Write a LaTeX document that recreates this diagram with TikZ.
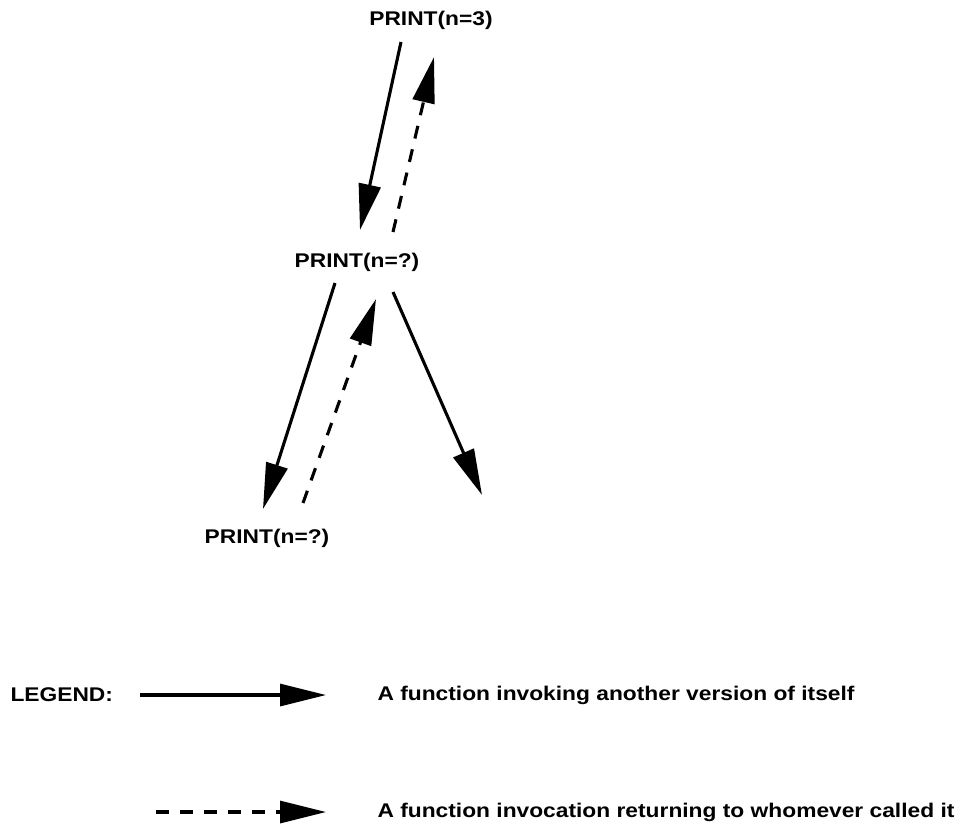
\documentclass[tikz,border=0pt]{standalone}
\usepackage{fontspec}
\setmainfont{Liberation Sans}[FakeStretch=1.15]
\usetikzlibrary{arrows.meta}
\tikzset{lbl/.style = {font=\bfseries\fontsize{19.8}{24}\selectfont, inner sep=0pt}}

\begin{document}
\begin{tikzpicture}[x=1pt, y=-1pt, line width=3.1pt,
  call/.style = {-{Triangle[length=46pt, width=22pt]}},
  ret/.style = {call, dash pattern=on 13pt off 11pt}]
\useasboundingbox (0,0) rectangle (959,825);
\node[lbl] (3) at (431,20) {PRINT(n=3)};
\node[lbl] (2) at (357,262) {PRINT(n=?)};
\node[lbl] (1) at (267,538) {PRINT(n=?)};
\coordinate (a3) at (401,42);
\coordinate (a2) at (360,230);
\coordinate (b2) at (393,232);
\coordinate (b3) at (434,57);
\coordinate (c2) at (335,283);
\coordinate (c1) at (263,509);
\coordinate (d1) at (303,503);
\coordinate (d2) at (376,299);
\coordinate (e2) at (393,292);
\coordinate (e0) at (482,495);
\draw[call] (a3) -- (a2);
\draw[ret] (b2) -- (b3);
\draw[call] (c2) -- (c1);
\draw[ret] (d1) -- (d2);
\draw[call] (e2) -- (e0);
% legend
\node[lbl, anchor=west] (leg) at (9,695) {LEGEND:};
\node[lbl, anchor=west] (t1) at (376,695) {A function invoking another version of itself};
\node[lbl, anchor=west] (t2) at (376,812) {A function invocation returning to whomever called it};
\coordinate (s1) at (140,695);
\coordinate (s2) at (156,812);
\draw[call] (s1) -- ([xshift=-50pt]t1.west);
\draw[ret] (s2) -- ([xshift=-50pt]t2.west);
\end{tikzpicture}
\end{document}
